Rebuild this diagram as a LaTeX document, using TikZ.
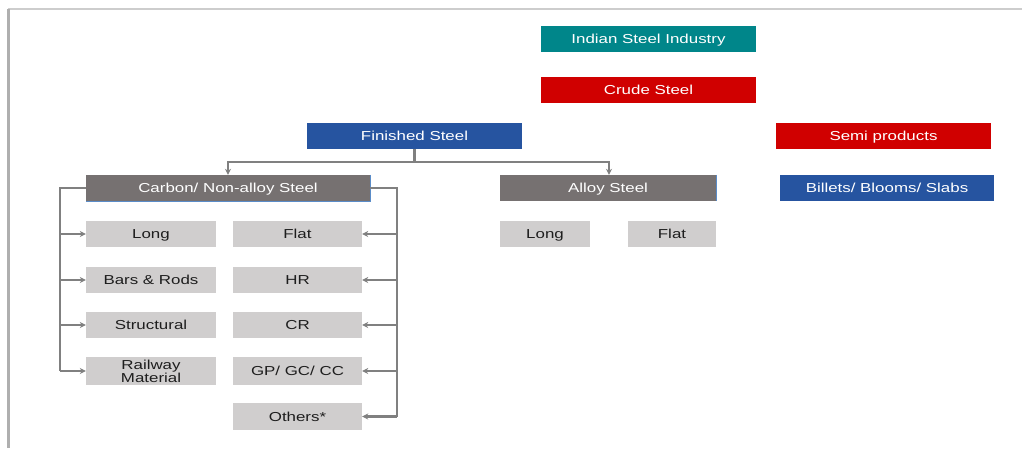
\documentclass[tikz,border=0pt]{standalone}
\usepackage{fontspec}
\newfontfamily\dfont[FakeStretch=1.3]{Liberation Sans}
\usetikzlibrary{arrows.meta}
\definecolor{teal1}{RGB}{0,134,138}
\definecolor{red1}{RGB}{208,0,0}
\definecolor{blue1}{RGB}{38,84,160}
\definecolor{gray1}{RGB}{118,113,113}
\definecolor{light1}{RGB}{208,206,206}
\definecolor{line1}{RGB}{128,128,128}
\definecolor{txt1}{RGB}{30,30,30}
\definecolor{edge1}{RGB}{90,140,200}
\tikzset{
  basebox/.style={rectangle, inner sep=0pt, minimum height=26pt, align=center,
    font=\dfont\fontsize{13}{12}\selectfont},
  box/.style={basebox, text height=9.3pt, text depth=0pt},
  colbox/.style={box, text=white},
  lightbox/.style={box, fill=light1, text=txt1},
  lightbox2/.style={basebox, fill=light1, text=txt1},
  conn/.style={draw=line1, line width=2.4pt},
  arr/.style={conn, -{Stealth[length=6pt,width=6pt]}},
  edgeline/.style={draw=edge1, line width=1pt},
}
\begin{document}
\begin{tikzpicture}[x=1pt,y=-1pt]
\useasboundingbox (0,0) rectangle (1022,448);
% frame
\draw[draw={rgb,255:red,205;green,205;blue,205}, line width=1.5pt] (8,9) -- (1022,9);
\draw[draw={rgb,255:red,175;green,175;blue,175}, line width=3pt] (8,8.5) -- (8,448);
% top boxes
\node[colbox, fill=teal1, minimum width=215pt] (isi) at (648.5,39) {Indian Steel Industry};
\node[colbox, fill=red1, minimum width=215pt] (crude) at (648.5,90) {Crude Steel};
\node[colbox, fill=blue1, minimum width=215pt] (fin) at (414.5,136) {Finished Steel};
\node[colbox, fill=red1, minimum width=215pt] (semi) at (883.5,136) {Semi products};
\node[colbox, fill=blue1, minimum width=214pt] (billets) at (887,188) {Billets/ Blooms/ Slabs};
\node[colbox, fill=gray1, minimum width=284pt] (carbon) at (228,188) {Carbon/ Non-alloy Steel};
\node[colbox, fill=gray1, minimum width=216pt] (alloy) at (608,188) {Alloy Steel};
% faint blue edges on right and bottom of grey headers
\draw[edgeline] (carbon.north east) -- (carbon.south east) -- (carbon.south west);
\draw[edgeline] (alloy.north east) -- (alloy.south east);
% alloy children
\node[lightbox, minimum width=90pt] (along) at (545,234) {Long};
\node[lightbox, minimum width=88pt] (aflat) at (672,234) {Flat};
% carbon left column
\node[lightbox, minimum width=130pt] (long) at (151,234) {Long};
\node[lightbox, minimum width=130pt] (bars) at (151,280) {Bars \& Rods};
\node[lightbox, minimum width=130pt] (struct) at (151,325) {Structural};
\node[lightbox2, minimum width=130pt, minimum height=28pt] (rail) at (151,371) {Railway\\Material};
% carbon right column
\node[lightbox, minimum width=129pt] (flat) at (297.5,234) {Flat};
\node[lightbox, minimum width=129pt] (hr) at (297.5,280) {HR};
\node[lightbox, minimum width=129pt] (cr) at (297.5,325) {CR};
\node[lightbox, minimum width=129pt, minimum height=28pt] (gp) at (297.5,371) {GP/ GC/ CC};
\node[lightbox, minimum width=129pt, minimum height=27pt] (others) at (297.5,416.5) {Others*};
% connectors from finished steel
\coordinate (bus) at (0,162);
\draw[conn] (fin.south) -- (fin.south |- bus);
\draw[arr] (fin.south |- bus) -| (carbon.north);
\draw[arr] (fin.south |- bus) -| ([xshift=1pt]alloy.north);
% left bracket
\coordinate (lx) at (60,0);
\draw[conn] (carbon.west) -| (lx |- rail.west);
\foreach \n in {long,bars,struct,rail}
  \draw[arr] (lx |- \n.west) -- (\n.west);
% right bracket
\coordinate (rx) at (397,0);
\draw[conn] (carbon.east) -| (rx |- others.east);
\foreach \n in {flat,hr,cr,gp,others}
  \draw[arr] (rx |- \n.east) -- (\n.east);
\end{tikzpicture}
\end{document}
